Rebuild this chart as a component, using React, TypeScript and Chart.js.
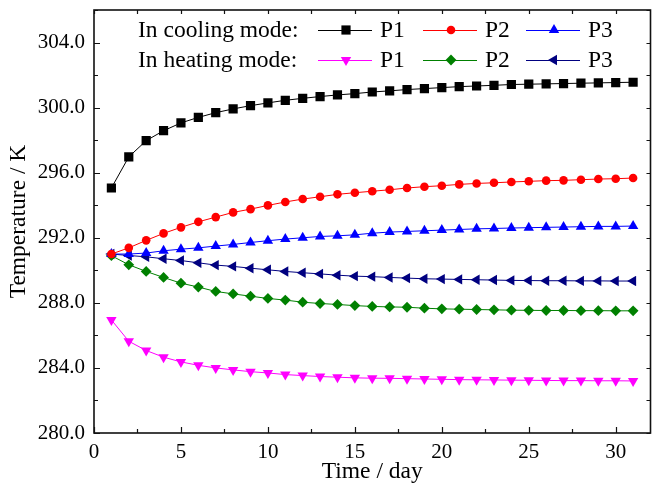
import React, { useEffect, useRef } from 'react';
import { Chart, registerables } from 'chart.js';
import { drawPoint } from 'chart.js/helpers';

Chart.register(...registerables);

const days = [1, 2, 3, 4, 5, 6, 7, 8, 9, 10, 11, 12, 13, 14, 15, 16, 17, 18, 19, 20, 21, 22, 23, 24, 25, 26, 27, 28, 29, 30, 31];

const coolingP1 = [295.06, 296.97, 297.97, 298.58, 299.06, 299.4, 299.69, 299.92, 300.12, 300.29, 300.45, 300.57, 300.68, 300.78, 300.86, 300.96, 301.03, 301.11, 301.17, 301.23, 301.29, 301.33, 301.37, 301.42, 301.44, 301.46, 301.48, 301.5, 301.52, 301.54, 301.56];
const coolingP2 = [291.0, 291.38, 291.84, 292.27, 292.64, 292.98, 293.27, 293.56, 293.76, 293.99, 294.2, 294.38, 294.52, 294.67, 294.77, 294.86, 294.95, 295.06, 295.14, 295.2, 295.28, 295.34, 295.38, 295.43, 295.47, 295.51, 295.53, 295.57, 295.61, 295.63, 295.67];
const coolingP3 = [291.0, 291.0, 291.06, 291.2, 291.3, 291.38, 291.49, 291.59, 291.71, 291.82, 291.92, 292.0, 292.08, 292.12, 292.18, 292.28, 292.35, 292.39, 292.43, 292.47, 292.51, 292.55, 292.57, 292.6, 292.62, 292.64, 292.66, 292.68, 292.7, 292.7, 292.72];
const heatingP1 = [286.95, 285.64, 285.07, 284.66, 284.37, 284.16, 284.0, 283.88, 283.77, 283.69, 283.59, 283.53, 283.47, 283.43, 283.39, 283.37, 283.36, 283.34, 283.32, 283.3, 283.28, 283.27, 283.26, 283.25, 283.24, 283.23, 283.22, 283.22, 283.21, 283.21, 283.2];
const heatingP2 = [290.9, 290.34, 289.93, 289.56, 289.21, 288.97, 288.7, 288.55, 288.41, 288.27, 288.17, 288.04, 287.96, 287.9, 287.83, 287.78, 287.75, 287.73, 287.67, 287.63, 287.61, 287.59, 287.57, 287.55, 287.54, 287.53, 287.53, 287.52, 287.52, 287.51, 287.51];
const heatingP3 = [291.0, 290.91, 290.83, 290.71, 290.6, 290.46, 290.32, 290.24, 290.13, 290.03, 289.93, 289.85, 289.78, 289.7, 289.64, 289.61, 289.56, 289.52, 289.48, 289.46, 289.44, 289.42, 289.4, 289.38, 289.37, 289.36, 289.36, 289.35, 289.35, 289.34, 289.34];

const xTickValues = [0, 5, 10, 15, 20, 25, 30];
const yTickValues = [280, 284, 288, 292, 296, 300, 304];

const seriesNames = ['P1', 'P2', 'P3'];
const groupLabels = ['In cooling mode:', 'In heating mode:'];
const xTitle = 'Time / day';
const yTitle = 'Temperature / K';

const FONT = "'Liberation Serif', 'Times New Roman', serif";

const toPts = (arr: number[]) => days.map((d, i) => ({ x: d, y: arr[i] }));

const mk = (label: string, arr: number[], color: string, style: string, radius: number, rotation = 0) => ({
  label,
  data: toPts(arr),
  borderColor: color,
  backgroundColor: color,
  pointBackgroundColor: color,
  pointBorderColor: color,
  borderWidth: 1,
  pointStyle: style,
  pointRadius: radius,
  pointRotation: rotation,
  pointBorderWidth: 0,
  tension: 0,
  fill: false,
});

const framePlugin = {
  id: 'frame',
  afterDraw(chart: any) {
    const { ctx, chartArea: a, scales } = chart;
    const xs = scales.x;
    const ys = scales.y;
    ctx.save();
    ctx.strokeStyle = '#111';
    ctx.lineWidth = 1.6;
    ctx.strokeRect(a.left, a.top, a.right - a.left, a.bottom - a.top);
    ctx.lineWidth = 1.2;
    ctx.beginPath();
    for (let v = 0; v <= 32; v += 2.5) {
      const px = Math.round(xs.getPixelForValue(v)) + 0.5;
      const major = v % 5 === 0;
      const lb = major ? 6 : 4;
      ctx.moveTo(px, a.bottom);
      ctx.lineTo(px, a.bottom - lb);
      ctx.moveTo(px, a.top);
      ctx.lineTo(px, a.top + 4);
    }
    for (let v = 280; v <= 306; v += 2) {
      const py = Math.round(ys.getPixelForValue(v)) + 0.5;
      const major = (v - 280) % 4 === 0;
      const lb = major ? 6 : 4;
      ctx.moveTo(a.left, py);
      ctx.lineTo(a.left + lb, py);
      ctx.moveTo(a.right, py);
      ctx.lineTo(a.right - 4, py);
    }
    ctx.stroke();

    // legend
    const rows = [30, 60];
    const starts = [318, 423, 526];
    ctx.textBaseline = 'alphabetic';
    ctx.textAlign = 'left';
    ctx.font = `23.5px ${FONT}`;
    rows.forEach((ry, r) => {
      ctx.fillStyle = '#000';
      ctx.fillText(groupLabels[r], 138, ry + 7);
      for (let k = 0; k < 3; k++) {
        const ds = chart.data.datasets[r * 3 + k];
        const sx = starts[k];
        ctx.strokeStyle = ds.borderColor;
        ctx.lineWidth = 1;
        ctx.beginPath();
        ctx.moveTo(sx, ry + 0.5);
        ctx.lineTo(sx + 54, ry + 0.5);
        ctx.stroke();
        ctx.fillStyle = ds.backgroundColor;
        ctx.strokeStyle = ds.backgroundColor;
        drawPoint(ctx, { pointStyle: ds.pointStyle, rotation: ds.pointRotation, radius: ds.pointRadius, borderWidth: 0 }, sx + 28, ry);
        ctx.fillStyle = '#000';
        ctx.fillText(seriesNames[k], sx + 62, ry + 7);
      }
    });
    ctx.restore();
  },
};

export default function App() {
  const ref = useRef<HTMLCanvasElement>(null);
  useEffect(() => {
    if (!ref.current) return;
    const chart = new Chart(ref.current, {
      type: 'line',
      data: {
        datasets: [
          mk('P1 cooling', coolingP1, '#000000', 'rect', 6.5),
          mk('P2 cooling', coolingP2, '#ff0000', 'circle', 4.3),
          mk('P3 cooling', coolingP3, '#0000ff', 'triangle', 6),
          mk('P1 heating', heatingP1, '#ff00ff', 'triangle', 6, 180),
          mk('P2 heating', heatingP2, '#008000', 'rectRot', 5.4),
          mk('P3 heating', heatingP3, '#000080', 'triangle', 6, 270),
        ] as any,
      },
      options: {
        animation: false,
        responsive: false,
        layout: { padding: { top: 10, right: 0, left: 0, bottom: 0 } },
        plugins: { legend: { display: false }, tooltip: { enabled: false } },
        scales: {
          x: {
            type: 'linear',
            min: 0,
            max: 32,
            grid: { display: false, drawTicks: false },
            border: { display: false },
            afterBuildTicks: (s: any) => { s.ticks = xTickValues.map((v) => ({ value: v })); },
            ticks: {
              padding: 7,
              color: '#000',
              font: { family: FONT, size: 21 },
              maxRotation: 0,
              autoSkip: false,
              callback: (v: any) => String(v),
            },
            title: { display: true, text: xTitle, color: '#000', font: { family: FONT, size: 23.5 }, padding: { top: 0, bottom: 3 } },
            afterFit: (s: any) => { s.height = 56; s.paddingLeft = 0; s.paddingRight = 0; },
          },
          y: {
            type: 'linear',
            min: 280,
            max: 306,
            grid: { display: false, drawTicks: false },
            border: { display: false },
            afterBuildTicks: (s: any) => { s.ticks = yTickValues.map((v) => ({ value: v })); },
            ticks: {
              padding: 9,
              color: '#000',
              font: { family: FONT, size: 21 },
              autoSkip: false,
              callback: (v: any) => Number(v).toFixed(1),
            },
            title: { display: true, text: yTitle, color: '#000', font: { family: FONT, size: 23.5 }, padding: { top: 5, bottom: 5 } },
            afterFit: (s: any) => { s.width = 94; s.paddingTop = 0; s.paddingBottom = 0; },
          },
        },
      } as any,
      plugins: [framePlugin],
    });
    return () => chart.destroy();
  }, []);
  return (
    <div style={{ position: 'fixed', left: 0, top: 0, width: 657, height: 489, background: '#fff' }}>
      <canvas ref={ref} width={657} height={489} style={{ width: 657, height: 489 }} />
    </div>
  );
}
